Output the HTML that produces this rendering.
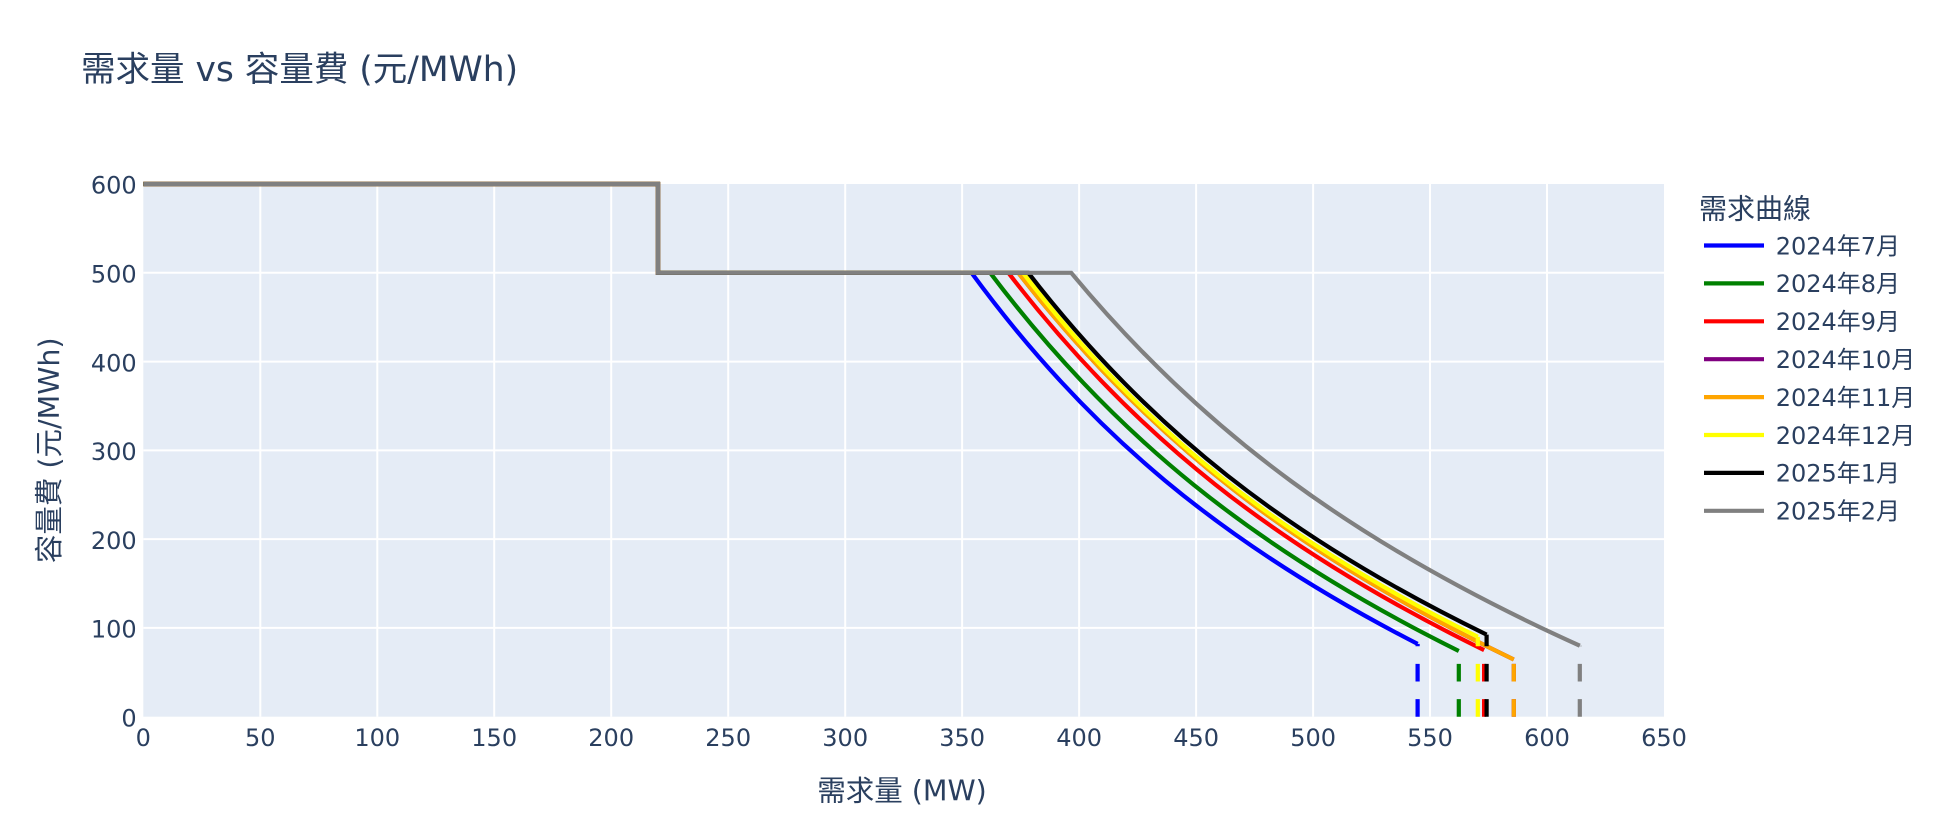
<!DOCTYPE html>
<html>
<head>
<meta charset="utf-8">
<style>
html,body{margin:0;padding:0;background:#fff;}
svg{display:block;}
text{fill:#2a3f5f;font-family:"DejaVu Sans","Liberation Sans","Noto Sans CJK TC",sans-serif;}
</style>
</head>
<body>
<svg width="1934" height="824" viewBox="0 0 1934 824" xmlns="http://www.w3.org/2000/svg">
<rect x="0" y="0" width="1934" height="824" fill="#ffffff"/>
<!-- plot background -->
<rect x="143.3" y="184" width="1520.7" height="532.7" fill="#e5ecf6"/>
<!-- gridlines -->
<g stroke="#ffffff" stroke-width="2">
<line x1="260.3" y1="184" x2="260.3" y2="716.7"/>
<line x1="377.3" y1="184" x2="377.3" y2="716.7"/>
<line x1="494.2" y1="184" x2="494.2" y2="716.7"/>
<line x1="611.2" y1="184" x2="611.2" y2="716.7"/>
<line x1="728.2" y1="184" x2="728.2" y2="716.7"/>
<line x1="845.2" y1="184" x2="845.2" y2="716.7"/>
<line x1="962.1" y1="184" x2="962.1" y2="716.7"/>
<line x1="1079.1" y1="184" x2="1079.1" y2="716.7"/>
<line x1="1196.1" y1="184" x2="1196.1" y2="716.7"/>
<line x1="1313.1" y1="184" x2="1313.1" y2="716.7"/>
<line x1="1430.0" y1="184" x2="1430.0" y2="716.7"/>
<line x1="1547.0" y1="184" x2="1547.0" y2="716.7"/>
<line x1="143.3" y1="627.9" x2="1664" y2="627.9"/>
<line x1="143.3" y1="539.1" x2="1664" y2="539.1"/>
<line x1="143.3" y1="450.4" x2="1664" y2="450.4"/>
<line x1="143.3" y1="361.6" x2="1664" y2="361.6"/>
<line x1="143.3" y1="272.8" x2="1664" y2="272.8"/>
</g>

<!-- series -->
<g fill="none" stroke-width="4.2">
<path stroke="#0000ff" d="M143.3,184 L658,184 L658,272.8 L971.5,272.8 C1088.5,432.5 1222.3,543.8 1417.6,643.9"/>
<line stroke="#0000ff" x1="1417.6" y1="716.7" x2="1417.6" y2="643.9" stroke-dasharray="17.6 17.6"/>

<path stroke="#008000" d="M143.3,184 L658,184 L658,272.8 L990.2,272.8 C1113,435.6 1253.6,549.1 1458.8,651"/>
<line stroke="#008000" x1="1458.8" y1="716.7" x2="1458.8" y2="651" stroke-dasharray="17.6 17.6"/>

<path stroke="#ff0000" d="M143.3,184 L658,184 L658,272.8 L1008.4,272.8 C1133.1,435.2 1275.9,548.4 1484.1,650.1"/>
<line stroke="#ff0000" x1="1484.1" y1="716.7" x2="1484.1" y2="650.1" stroke-dasharray="17.6 17.6"/>

<path stroke="#800080" d="M143.3,184 L658,184 L658,272.8 L1018.3,272.8 C1148.1,439.3 1296.9,555.3 1513.8,659.5"/>
<line stroke="#800080" x1="1513.8" y1="716.7" x2="1513.8" y2="659.5" stroke-dasharray="17.6 17.6"/>

<path stroke="#ffa500" d="M143.3,184 L658,184 L658,272.8 L1018.3,272.8 C1148.1,439.3 1296.9,555.3 1513.8,659.5"/>
<line stroke="#ffa500" x1="1513.8" y1="716.7" x2="1513.8" y2="659.5" stroke-dasharray="17.6 17.6"/>

<path stroke="#ffff00" d="M143.3,184 L658,184 L658,272.8 L1023,272.8 C1142.3,429.5 1278.7,538.7 1477.8,636.8"/>
<line stroke="#ffff00" x1="1477.8" y1="716.7" x2="1477.8" y2="636.8" stroke-dasharray="17.6 17.6"/>

<path stroke="#000000" d="M143.3,184 L658,184 L658,272.8 L1028.3,272.8 C1148.6,428.5 1285.9,537 1486.6,634.6"/>
<line stroke="#000000" x1="1486.6" y1="716.7" x2="1486.6" y2="634.6" stroke-dasharray="17.6 17.6"/>

<path stroke="#808080" d="M143.3,184 L658,184 L658,272.8 L1071.2,272.8 C1204.5,433.3 1357,545.2 1579.8,645.7"/>
<line stroke="#808080" x1="1579.8" y1="716.7" x2="1579.8" y2="645.7" stroke-dasharray="17.6 17.6"/>
</g>

<!-- y tick labels -->
<g font-size="24" text-anchor="end">
<text x="136.7" y="726.4">0</text>
<text x="136.7" y="637.6">100</text>
<text x="136.7" y="548.8">200</text>
<text x="136.7" y="460.1">300</text>
<text x="136.7" y="371.3">400</text>
<text x="136.7" y="282.5">500</text>
<text x="136.7" y="193.7">600</text>
</g>
<!-- x tick labels -->
<g font-size="24" text-anchor="middle">
<text x="143.3" y="745.8">0</text>
<text x="260.3" y="745.8">50</text>
<text x="377.3" y="745.8">100</text>
<text x="494.2" y="745.8">150</text>
<text x="611.2" y="745.8">200</text>
<text x="728.2" y="745.8">250</text>
<text x="845.2" y="745.8">300</text>
<text x="962.1" y="745.8">350</text>
<text x="1079.1" y="745.8">400</text>
<text x="1196.1" y="745.8">450</text>
<text x="1313.1" y="745.8">500</text>
<text x="1430.0" y="745.8">550</text>
<text x="1547.0" y="745.8">600</text>
<text x="1664.0" y="745.8">650</text>
</g>

<!-- titles -->
<text x="81" y="81" font-size="34.5">需求量 vs 容量費 (元/MWh)</text>
<text x="902" y="800.5" font-size="28.5" text-anchor="middle">需求量 (MW)</text>
<text transform="translate(58.8,450.3) rotate(-90)" x="0" y="0" font-size="28.5" text-anchor="middle">容量費 (元/MWh)</text>

<!-- legend -->
<text x="1699" y="218.3" font-size="28">需求曲線</text>
<g stroke-width="4.2">
<line x1="1704" y1="245.5" x2="1764" y2="245.5" stroke="#0000ff"/>
<line x1="1704" y1="283.4" x2="1764" y2="283.4" stroke="#008000"/>
<line x1="1704" y1="321.3" x2="1764" y2="321.3" stroke="#ff0000"/>
<line x1="1704" y1="359.2" x2="1764" y2="359.2" stroke="#800080"/>
<line x1="1704" y1="397.1" x2="1764" y2="397.1" stroke="#ffa500"/>
<line x1="1704" y1="435.0" x2="1764" y2="435.0" stroke="#ffff00"/>
<line x1="1704" y1="472.9" x2="1764" y2="472.9" stroke="#000000"/>
<line x1="1704" y1="510.8" x2="1764" y2="510.8" stroke="#808080"/>
</g>
<g font-size="24">
<text x="1775.7" y="254.3">2024年7月</text>
<text x="1775.7" y="292.2">2024年8月</text>
<text x="1775.7" y="330.1">2024年9月</text>
<text x="1775.7" y="368.0">2024年10月</text>
<text x="1775.7" y="405.9">2024年11月</text>
<text x="1775.7" y="443.8">2024年12月</text>
<text x="1775.7" y="481.7">2025年1月</text>
<text x="1775.7" y="519.6">2025年2月</text>
</g>
</svg>
</body>
</html>
